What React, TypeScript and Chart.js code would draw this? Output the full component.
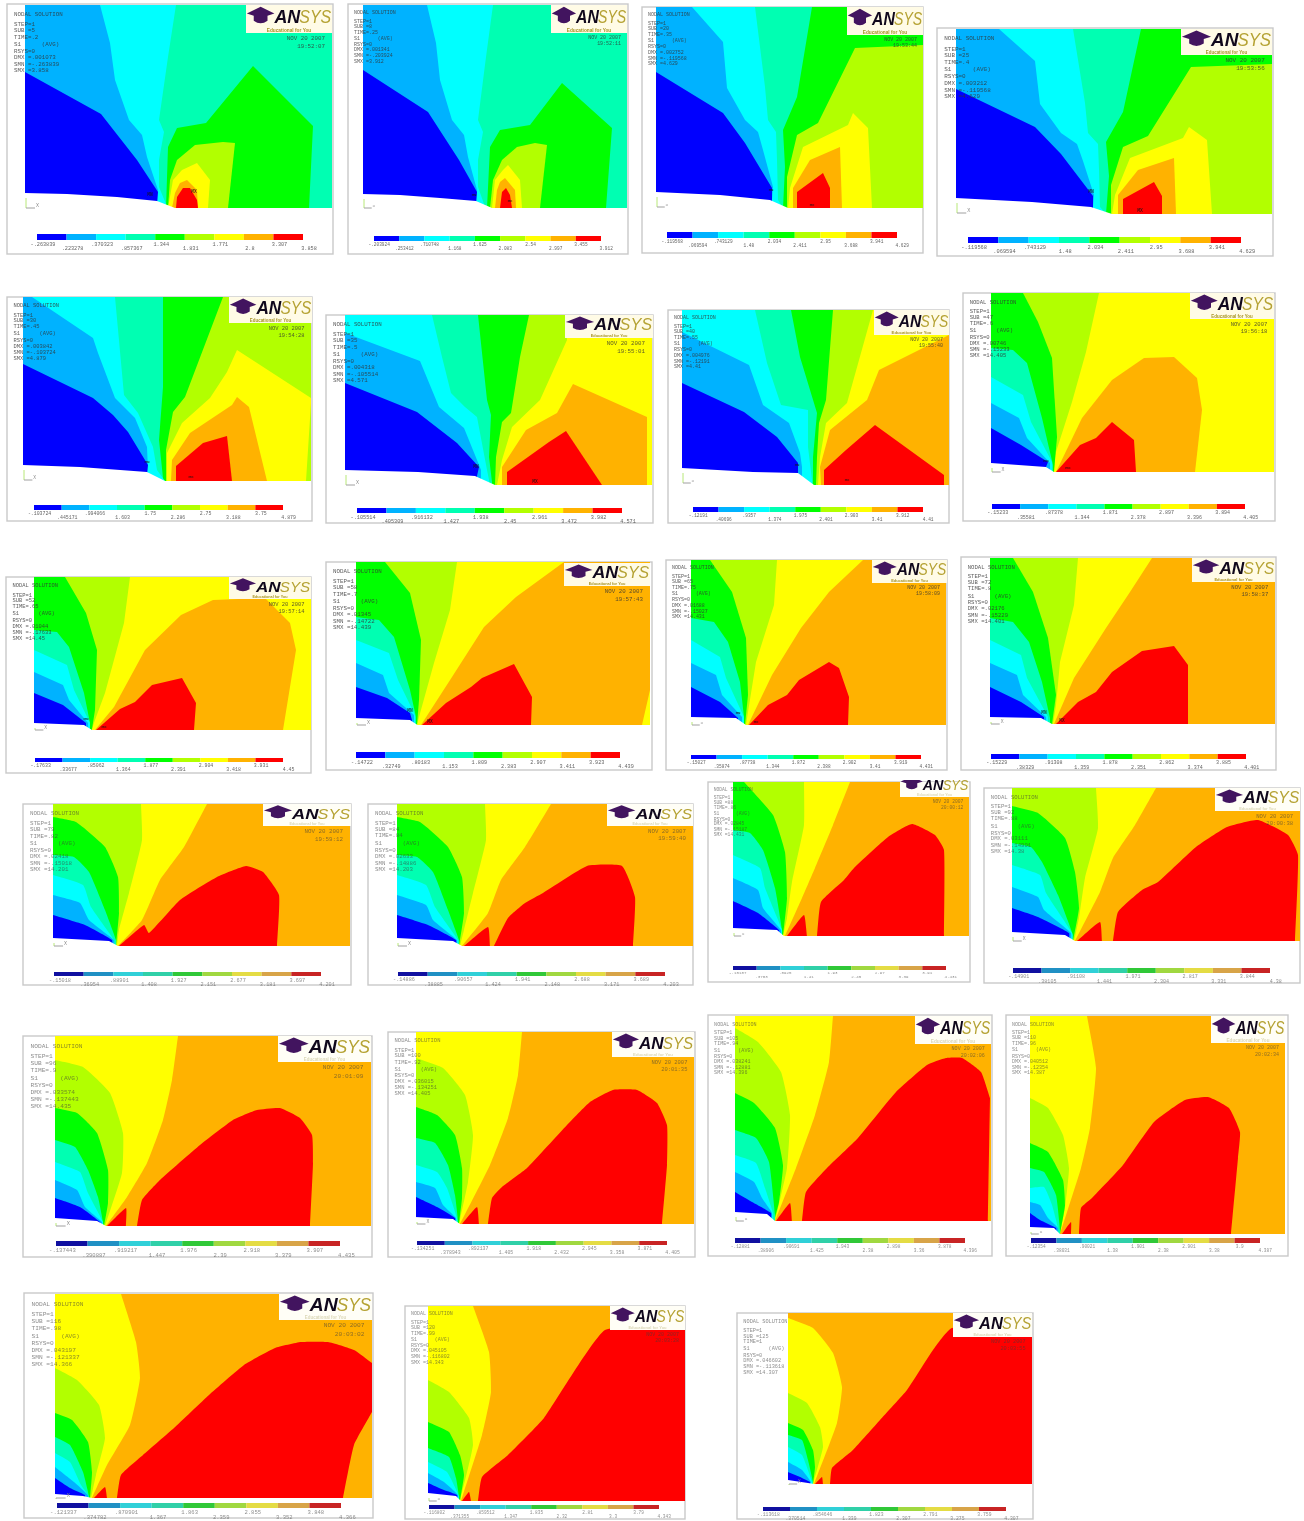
import React, { useEffect, useRef } from "react";
import { Chart, registerables } from "chart.js";

Chart.register(...registerables);

// Nine contour levels of the solution, blue (low) to red (high)
const LEVEL_COLORS = ["#0000ff", "#00b2ff", "#00ffff", "#00ffb2", "#00ff00", "#b2ff00", "#ffff00", "#ffb200", "#ff0000"];
const LATE_BAR_COLORS = ["#1010a0", "#2090c4", "#30d0d8", "#30d0a8", "#30c838", "#a0d840", "#e4dc44", "#d8a448", "#c82424"];
const B = 0, LB = 1, C = 2, T = 3, G = 4, YG = 5, Y = 6, O = 7, R = 8;

// Each band: [level, x, y, x, y ...]. LEFT bands are boundaries closed against the left side of the section, outer first.
const P01_BG = T;
const P01_LEFT = [
  [C, 176,5, 168,57, 159,120, 164,132, 159,160, 159,187, 166,204],
  [LB, 100,5, 110,43, 115,80, 129,120, 142,135, 147,157, 158,190, 158,200],
  [B, 25,72, 101,114, 137,160, 158,192, 157,201],
];
const P01_RIGHT = [
  [G, 253,66, 313,126, 309,208, 166,208, 168,147, 177,128, 206,123],
  [YG, 235,143, 228,208, 168,208, 170,180, 177,160, 195,145, 223,142],
  [Y, 197,163, 210,180, 208,208, 168,208, 173,180, 182,170],
  [O, 187,180, 197,190, 198,208, 172,208, 175,193, 180,183],
  [R, 176,208, 177,197, 183,188, 190,188, 197,200, 198,208],
];
const P01_EDGE = [25,193, 67,194, 117,197, 157,201, 175,208];
const P01_TICKS = ["-.263839", ".223278", ".370323", ".857367", "1.344", "1.831", "1.771", "2.8", "3.307", "3.858"];
const P01_INFO = ["STEP=1", "SUB =5", "TIME=.2", "S1      (AVG)", "RSYS=0", "DMX =.001073", "SMN =-.263839", "SMX =3.858"];

const P02_BG = T;
const P02_LEFT = [
  [C, 493,5, 486,57, 478,120, 483,132, 478,160, 478,187, 484,204],
  [LB, 427,5, 436,43, 440,80, 452,120, 464,135, 468,157, 477,190, 477,200],
  [B, 363,70, 428,112, 459,160, 477,192, 476,201],
];
const P02_RIGHT = [
  [G, 562,83, 612,128, 606,208, 487,208, 490,147, 500,130, 530,125],
  [YG, 547,145, 540,208, 490,208, 493,180, 502,160, 517,147, 535,143],
  [Y, 508,165, 520,180, 522,208, 492,208, 495,180, 503,170],
  [O, 505,178, 515,190, 516,208, 495,208, 497,190, 500,182],
  [R, 500,208, 502,192, 506,188, 510,195, 512,208],
];
const P02_EDGE = [363,194, 400,195, 440,198, 476,201, 492,208];
const P02_TICKS = ["-.203924", ".253412", ".710748", "1.168", "1.625", "2.083", "2.54", "2.997", "3.455", "3.912"];
const P02_INFO = ["STEP=1", "SUB =8", "TIME=.25", "S1      (AVG)", "RSYS=0", "DMX =.001341", "SMN =-.203924", "SMX =3.912"];

const P03_BG = YG;
const P03_LEFT = [
  [G, 847,7, 923,7, 923,45, 855,48, 818,123, 797,135, 787,177, 787,208],
  [T, 812,7, 797,97, 783,130, 785,167, 783,208],
  [C, 755,7, 765,87, 768,120, 776,132, 777,160, 778,200, 783,208],
  [LB, 692,7, 723,42, 727,88, 745,120, 758,132, 763,150, 773,187, 772,200],
  [B, 656,72, 723,113, 745,143, 772,188, 772,200],
];
const P03_RIGHT = [
  [Y, 853,113, 868,128, 872,208, 788,208, 790,188, 803,147, 848,125],
  [O, 840,147, 842,208, 793,208, 793,188, 810,160],
  [R, 823,173, 830,188, 830,208, 797,208, 797,192],
];
const P03_EDGE = [656,192, 720,195, 770,200, 788,208];
const P03_TICKS = ["-.119568", ".069594", ".743129", "1.48", "2.034", "2.411", "2.95", "3.688", "3.941", "4.629"];
const P03_INFO = ["STEP=1", "SUB =20", "TIME=.35", "S1      (AVG)", "RSYS=0", "DMX =.002752", "SMN =-.119568", "SMX =4.629"];

const P04_BG = YG;
const P04_LEFT = [
  [G, 1182,29, 1272,29, 1272,64, 1191,67, 1148,136, 1123,147, 1111,185, 1111,214],
  [T, 1141,29, 1123,112, 1106,142, 1109,176, 1106,214],
  [C, 1073,29, 1085,103, 1088,133, 1098,144, 1099,170, 1100,207, 1106,214],
  [LB, 999,29, 1035,61, 1040,104, 1061,133, 1077,144, 1083,161, 1094,195, 1093,207],
  [B, 956,89, 1035,127, 1061,154, 1093,196, 1093,207],
];
const P04_RIGHT = [
  [Y, 1189,127, 1207,140, 1212,214, 1112,214, 1115,195, 1130,158, 1183,138],
  [O, 1174,158, 1176,214, 1118,214, 1118,195, 1138,170],
  [R, 1154,182, 1162,196, 1162,214, 1123,214, 1123,199],
];
const P04_EDGE = [956,198, 1032,202, 1091,207, 1112,214];
const P04_TICKS = ["-.119568", ".069594", ".743129", "1.48", "2.034", "2.411", "2.95", "3.688", "3.941", "4.629"];
const P04_INFO = ["STEP=1", "SUB =25", "TIME=.4", "S1      (AVG)", "RSYS=0", "DMX =.003212", "SMN =-.119568", "SMX =4.629"];

const P05_BG = YG;
const P05_LEFT = [
  [G, 223,297, 185,397, 173,412, 166,450, 166,481],
  [T, 163,297, 163,387, 159,440, 163,478],
  [C, 115,297, 124,395, 138,413, 153,447, 157,470, 165,481],
  [LB, 32,297, 93,338, 98,353, 115,398, 135,418, 147,447, 148,470],
  [B, 23,364, 93,398, 113,415, 128,432, 148,465, 147,472],
];
const P05_RIGHT = [
  [Y, 237,350, 311,398, 311,403, 306,481, 167,481, 167,453, 182,423, 210,398, 227,372],
  [O, 237,397, 249,407, 267,481, 171,481, 172,460, 190,433, 232,405],
  [R, 227,436, 232,481, 176,481, 176,466, 203,443],
];
const P05_EDGE = [23,465, 80,467, 147,472, 165,481];
const P05_TICKS = ["-.103724", ".445171", ".994066", "1.603", "1.75", "2.286", "2.75", "3.188", "3.75", "4.879"];
const P05_INFO = ["STEP=1", "SUB =30", "TIME=.45", "S1      (AVG)", "RSYS=0", "DMX =.003842", "SMN =-.103724", "SMX =4.879"];

const P06_BG = Y;
const P06_LEFT = [
  [YG, 565,315, 567,340, 540,400, 512,427, 502,460, 497,485],
  [G, 529,315, 520,357, 511,413, 502,422, 496,457, 495,485],
  [T, 478,315, 487,400, 491,415, 489,457, 492,482],
  [C, 432,315, 442,357, 451,393, 465,407, 477,417, 487,470, 489,480],
  [LB, 345,333, 420,361, 439,407, 464,428, 477,460, 481,470],
  [B, 345,383, 417,412, 457,443, 479,467, 477,476],
];
const P06_RIGHT = [
  [O, 573,384, 647,417, 647,485, 502,485, 502,467, 526,430, 557,413],
  [R, 566,431, 602,485, 507,485, 507,472, 549,442],
];
const P06_EDGE = [345,470, 418,472, 475,476, 495,485];
const P06_TICKS = ["-.105514", ".405309", ".916132", "1.427", "1.938", "2.45", "2.961", "3.472", "3.982", "4.571"];
const P06_INFO = ["STEP=1", "SUB =35", "TIME=.5", "S1      (AVG)", "RSYS=0", "DMX =.004318", "SMN =-.105514", "SMX =4.571"];

const P07_BG = Y;
const P07_LEFT = [
  [YG, 873,310, 847,403, 826,423, 820,457, 818,485],
  [G, 833,310, 826,400, 819,423, 817,457, 816,485],
  [T, 791,310, 800,357, 817,413, 813,457, 813,485],
  [C, 755,310, 767,363, 781,405, 808,410, 808,447, 812,480],
  [LB, 682,332, 749,365, 763,405, 789,423, 800,453, 802,467],
  [B, 682,383, 744,412, 777,437, 798,463, 798,473],
];
const P07_RIGHT = [
  [O, 949,335, 949,485, 821,485, 820,467, 830,430, 867,400, 879,370],
  [R, 875,425, 944,475, 944,485, 823,485, 824,470, 846,450],
];
const P07_EDGE = [682,468, 753,472, 798,473, 814,485];
const P07_TICKS = ["-.12191", ".40696", ".9357", "1.374", "1.975", "2.401", "2.903", "3.41", "3.912", "4.41"];
const P07_INFO = ["STEP=1", "SUB =40", "TIME=.55", "S1      (AVG)", "RSYS=0", "DMX =.004976", "SMN =-.12191", "SMX =4.41"];

const P08_BG = Y;
const P08_LEFT = [
  [YG, 1099,293, 1086,352, 1072,402, 1056,452, 1052,472],
  [G, 1023,293, 1038,322, 1052,358, 1057,437, 1054,472],
  [T, 991,348, 1013,350, 1027,363, 1042,418, 1053,465],
  [C, 991,377, 1023,395, 1031,422, 1052,462],
  [LB, 991,403, 1019,418, 1027,438, 1050,463],
  [B, 991,428, 1021,445, 1048,462, 1046,467],
];
const P08_RIGHT = [
  [O, 1144,358, 1174,357, 1197,378, 1202,410, 1195,472, 1056,472, 1082,418, 1112,380],
  [R, 1112,422, 1134,440, 1136,472, 1056,472, 1080,445, 1096,438],
];
const P08_EDGE = [991,463, 1046,467, 1054,472];
const P08_TICKS = ["-.15233", ".35581", ".87378", "1.344", "1.871", "2.378", "2.897", "3.396", "3.894", "4.405"];
const P08_INFO = ["STEP=1", "SUB =47", "TIME=.6", "S1      (AVG)", "RSYS=0", "DMX =.00746", "SMN =-.15233", "SMX =14.405"];

const P09_BG = Y;
const P09_LEFT = [
  [YG, 130,577, 124,623, 105,693, 95,720, 92,729],
  [G, 65,577, 86,613, 97,650, 95,710, 92,729],
  [T, 34,630, 57,632, 69,647, 84,693, 90,723],
  [C, 34,650, 67,665, 74,690, 90,723],
  [LB, 34,672, 63,685, 69,700, 88,723],
  [B, 34,693, 63,705, 86,723],
];
const P09_RIGHT = [
  [O, 213,600, 265,598, 290,623, 296,650, 283,730, 95,730, 114,707, 145,650, 181,615],
  [R, 182,678, 196,703, 194,730, 96,730, 120,709, 135,702, 152,685],
];
const P09_EDGE = [34,723, 84,725, 92,730];
const P09_TICKS = ["-.17633", ".33677", ".85062", "1.364", "1.877", "2.391", "2.904", "3.418", "3.931", "4.45"];
const P09_INFO = ["STEP=1", "SUB =52", "TIME=.65", "S1      (AVG)", "RSYS=0", "DMX =.01044", "SMN =-.17633", "SMX =14.45"];

const P10_BG = Y;
const P10_LEFT = [
  [YG, 457,562, 450,610, 434,663, 419,717, 417,725],
  [G, 385,562, 410,593, 421,640, 419,700, 417,725],
  [T, 356,617, 379,620, 394,637, 410,690, 416,717],
  [C, 356,640, 389,653, 398,680, 415,715],
  [LB, 356,663, 383,675, 389,693, 414,715],
  [B, 356,687, 387,698, 410,713, 412,720],
];
const P10_RIGHT = [
  [O, 564,562, 650,562, 650,690, 642,725, 421,725, 452,677, 484,627, 516,597],
  [R, 514,664, 532,697, 531,725, 422,725, 446,703, 471,687, 482,678],
];
const P10_EDGE = [356,718, 410,720, 419,726];
const P10_TICKS = ["-.14722", ".32749", ".80183", "1.153", "1.809", "2.383", "2.907", "3.411", "3.923", "4.439"];
const P10_INFO = ["STEP=1", "SUB =58", "TIME=.7", "S1      (AVG)", "RSYS=0", "DMX =.01345", "SMN =-.14722", "SMX =14.439"];

const P11_BG = O;
const P11_LEFT = [
  [Y, 863,560, 829,592, 801,628, 772,675, 748,725],
  [YG, 777,560, 774,605, 756,662, 748,712, 746,725],
  [G, 710,560, 732,592, 746,638, 748,695, 745,725],
  [T, 691,618, 714,622, 728,642, 740,682, 744,717],
  [C, 691,640, 720,657, 726,678, 744,717],
  [LB, 691,663, 716,675, 722,695, 742,717],
  [B, 691,687, 720,702, 738,718],
];
const P11_RIGHT = [
  [R, 829,662, 839,668, 849,697, 848,725, 749,725, 768,705, 787,695, 799,680],
];
const P11_EDGE = [691,717, 736,718, 746,725];
const P11_TICKS = ["-.15027", ".35874", ".87738", "1.344", "1.872", "2.388", "2.902", "3.41", "3.919", "4.431"];
const P11_INFO = ["STEP=1", "SUB =65", "TIME=.75", "S1      (AVG)", "RSYS=0", "DMX =.01688", "SMN =-.15027", "SMX =14.431"];

const P12_BG = O;
const P12_LEFT = [
  [Y, 1152,558, 1130,592, 1106,628, 1074,678, 1054,724],
  [YG, 1078,558, 1074,605, 1060,662, 1056,705, 1053,724],
  [G, 1013,558, 1033,592, 1048,638, 1056,695, 1052,724],
  [T, 990,618, 1013,622, 1029,642, 1042,682, 1050,718],
  [C, 990,640, 1021,655, 1027,678, 1048,717],
  [LB, 990,663, 1017,675, 1023,695, 1046,717],
  [B, 990,687, 1021,702, 1044,717],
];
const P12_RIGHT = [
  [R, 1142,651, 1174,646, 1188,665, 1188,724, 1056,724, 1078,702, 1096,692, 1112,672],
];
const P12_EDGE = [990,717, 1041,718, 1052,724];
const P12_TICKS = ["-.15229", ".38329", ".91308", "1.359", "1.878", "2.351", "2.862", "3.374", "3.885", "4.401"];
const P12_INFO = ["STEP=1", "SUB =72", "TIME=.8", "S1      (AVG)", "RSYS=0", "DMX =.02176", "SMN =-.15229", "SMX =14.401"];

const P13_BG = O;
const P13_LEFT = [
  [Y, 207,804, 184,847, 160,880, 142,920, 118,946],
  [YG, 141,804, 142,840, 129,893, 119,930, 117,946],
  [G, 53,817, 76,822, 105,847, 118,877, 119,913, 116,946],
  [T, 53,855, 74,857, 89,872, 105,910, 116,940],
  [C, 53,875, 83,885, 91,907, 114,940],
  [LB, 53,895, 80,903, 89,920, 114,940],
  [B, 53,915, 85,925, 112,940],
];
const P13_RIGHT = [
  [R, 119,946, 144,925, 149,933, 180,900, 217,877, 246,866, 263,872, 279,895, 277,946],
];
const P13_EDGE = [53,938, 109,941, 118,946];
const P13_TICKS = ["-.15018", ".36954", ".88901", "1.408", "1.927", "2.151", "2.677", "3.181", "3.697", "4.201"];
const P13_INFO = ["STEP=1", "SUB =79", "TIME=.82", "S1      (AVG)", "RSYS=0", "DMX =.02418", "SMN =-.15018", "SMX =14.201"];

const P14_BG = O;
const P14_LEFT = [
  [Y, 551,804, 525,847, 501,880, 488,913, 462,946],
  [YG, 485,804, 486,840, 473,893, 464,930, 460,946],
  [G, 397,817, 420,822, 448,847, 462,877, 464,913, 459,946],
  [T, 397,855, 417,857, 433,872, 448,910, 459,940],
  [C, 397,875, 426,885, 435,907, 458,940],
  [LB, 397,895, 426,905, 433,920, 457,940],
  [B, 397,915, 428,925, 456,940],
];
const P14_RIGHT = [
  [R, 464,946, 488,927, 490,946],
  [R, 494,946, 508,918, 525,903, 543,893, 587,866, 622,866, 635,897, 633,946],
];
const P14_EDGE = [397,938, 453,941, 462,946];
const P14_TICKS = ["-.14886", ".38885", ".90657", "1.424", "1.941", "2.148", "2.688", "3.171", "3.689", "4.203"];
const P14_INFO = ["STEP=1", "SUB =84", "TIME=.84", "S1      (AVG)", "RSYS=0", "DMX =.02633", "SMN =-.14886", "SMX =14.203"];

const P15_BG = O;
const P15_LEFT = [
  [Y, 850,782, 833,825, 815,868, 802,898, 785,936],
  [YG, 804,782, 804,825, 792,882, 787,918, 783,936],
  [G, 744,782, 773,815, 785,852, 787,898, 783,936],
  [T, 733,830, 750,833, 763,850, 775,888, 782,930],
  [C, 733,855, 760,868, 765,888, 782,930],
  [LB, 733,878, 758,890, 763,908, 781,930],
  [B, 733,901, 758,913, 779,930],
];
const P15_RIGHT = [
  [R, 787,936, 804,915, 807,936],
  [R, 817,936, 821,902, 844,880, 854,868, 888,837, 912,824, 935,835, 944,850, 944,936],
];
const P15_EDGE = [733,928, 777,930, 784,936];
const P15_TICKS = ["-.15187", ".3703", ".8925", "1.41", "1.93", "2.45", "2.97", "3.39", "3.91", "4.431"];
const P15_INFO = ["STEP=1", "SUB =88", "TIME=.86", "S1      (AVG)", "RSYS=0", "DMX =.02845", "SMN =-.15187", "SMX =14.431"];

const P16_BG = O;
const P16_LEFT = [
  [Y, 1156,788, 1135,825, 1113,858, 1100,892, 1075,941],
  [YG, 1096,788, 1098,828, 1085,878, 1079,918, 1074,941],
  [G, 1012,806, 1038,813, 1065,838, 1075,872, 1079,908, 1073,941],
  [T, 1012,843, 1031,847, 1042,862, 1058,895, 1073,935],
  [C, 1012,865, 1040,875, 1046,893, 1072,933],
  [LB, 1012,887, 1038,897, 1044,910, 1071,933],
  [B, 1012,908, 1038,917, 1069,933],
];
const P16_RIGHT = [
  [R, 1077,941, 1100,922, 1102,941],
  [R, 1113,941, 1118,912, 1142,890, 1158,882, 1196,847, 1227,827, 1258,820, 1288,835, 1298,855, 1295,941],
];
const P16_EDGE = [1012,932, 1065,935, 1075,941];
const P16_TICKS = ["-.14901", ".38105", ".91108", "1.441", "1.971", "2.304", "2.817", "3.331", "3.844", "4.38"];
const P16_INFO = ["STEP=1", "SUB =92", "TIME=.88", "S1      (AVG)", "RSYS=0", "DMX =.03111", "SMN =-.14901", "SMX =14.38"];

const P17_BG = O;
const P17_LEFT = [
  [Y, 178,1036, 172,1080, 163,1120, 147,1163, 127,1197, 106,1226],
  [YG, 55,1060, 83,1067, 110,1093, 123,1133, 122,1173, 105,1226],
  [G, 55,1108, 77,1113, 97,1133, 108,1170, 108,1203, 104,1226],
  [T, 55,1140, 75,1147, 88,1170, 98,1197, 103,1222],
  [C, 55,1162, 80,1172, 88,1193, 103,1222],
  [LB, 55,1180, 77,1190, 85,1207, 102,1222],
  [B, 55,1198, 80,1207, 100,1222],
];
const P17_RIGHT = [
  [R, 107,1226, 126,1208, 126,1226],
  [R, 137,1226, 142,1200, 160,1180, 200,1145, 233,1120, 257,1110, 280,1108, 300,1118, 312,1135, 313,1163, 310,1226],
];
const P17_EDGE = [55,1218, 97,1221, 106,1226];
const P17_TICKS = ["-.137443", ".390887", ".919217", "1.447", "1.976", "2.39", "2.918", "3.379", "3.907", "4.435"];
const P17_INFO = ["STEP=1", "SUB =96", "TIME=.9", "S1      (AVG)", "RSYS=0", "DMX =.033574", "SMN =-.137443", "SMX =14.435"];

const P18_BG = O;
const P18_LEFT = [
  [Y, 522,1032, 518,1075, 508,1118, 490,1165, 460,1224],
  [YG, 416,1058, 443,1068, 465,1095, 473,1135, 468,1182, 459,1224],
  [G, 416,1107, 437,1115, 455,1135, 462,1168, 462,1198, 459,1224],
  [T, 416,1138, 435,1143, 448,1165, 455,1195, 458,1220],
  [C, 416,1165, 437,1172, 447,1188, 457,1218],
  [LB, 416,1182, 435,1188, 443,1205, 456,1218],
  [B, 416,1197, 437,1207, 455,1218],
];
const P18_RIGHT = [
  [R, 462,1224, 477,1207, 479,1224],
  [R, 488,1224, 492,1198, 502,1187, 527,1168, 567,1125, 590,1102, 613,1090, 637,1090, 657,1103, 667,1125, 667,1165, 662,1224],
];
const P18_EDGE = [416,1217, 453,1219, 460,1224];
const P18_TICKS = ["-.134251", ".378943", ".892137", "1.405", "1.918", "2.432", "2.945", "3.358", "3.871", "4.405"];
const P18_INFO = ["STEP=1", "SUB =100", "TIME=.92", "S1      (AVG)", "RSYS=0", "DMX =.036015", "SMN =-.134251", "SMX =14.405"];

const P19_BG = O;
const P19_LEFT = [
  [Y, 833,1016, 829,1062, 815,1115, 796,1168, 775,1221],
  [YG, 735,1028, 758,1042, 781,1072, 790,1115, 787,1168, 775,1221],
  [G, 735,1093, 754,1103, 775,1128, 783,1165, 779,1202, 774,1221],
  [T, 735,1130, 756,1138, 769,1162, 775,1215],
  [C, 735,1155, 756,1163, 765,1188, 773,1213],
  [LB, 735,1172, 754,1182, 762,1198, 772,1213],
  [B, 735,1192, 752,1202, 771,1213],
];
const P19_RIGHT = [
  [R, 776,1221, 790,1203, 792,1221],
  [R, 802,1221, 806,1192, 827,1168, 858,1138, 896,1092, 927,1065, 946,1058, 962,1058, 981,1072, 990,1098, 988,1221],
];
const P19_EDGE = [735,1212, 767,1214, 775,1221];
const P19_TICKS = ["-.12881", ".38906", ".90691", "1.425", "1.943", "2.38", "2.898", "3.36", "3.878", "4.396"];
const P19_INFO = ["STEP=1", "SUB =105", "TIME=.94", "S1      (AVG)", "RSYS=0", "DMX =.038241", "SMN =-.12881", "SMX =14.396"];

const P20_BG = O;
const P20_LEFT = [
  [Y, 1087,1016, 1096,1068, 1090,1128, 1081,1168, 1060,1234],
  [YG, 1030,1098, 1048,1108, 1063,1135, 1069,1168, 1065,1208, 1060,1234],
  [G, 1030,1143, 1048,1152, 1063,1180, 1065,1205, 1060,1234],
  [T, 1030,1168, 1044,1172, 1056,1195, 1060,1230],
  [C, 1030,1188, 1044,1187, 1052,1205, 1058,1228],
  [LB, 1030,1202, 1040,1205, 1048,1218, 1058,1228],
  [B, 1030,1213, 1040,1220, 1056,1228],
];
const P20_RIGHT = [
  [R, 1062,1234, 1071,1222, 1071,1234],
  [R, 1079,1234, 1081,1208, 1092,1198, 1123,1165, 1154,1122, 1185,1100, 1208,1097, 1229,1108, 1240,1132, 1238,1158, 1231,1234],
];
const P20_EDGE = [1030,1227, 1054,1228, 1060,1234];
const P20_TICKS = ["-.12354", ".38031", ".90021", "1.38", "1.901", "2.38", "2.901", "3.38", "3.9", "4.387"];
const P20_INFO = ["STEP=1", "SUB =110", "TIME=.96", "S1      (AVG)", "RSYS=0", "DMX =.040512", "SMN =-.12354", "SMX =14.387"];

const P21_BG = O;
const P21_LEFT = [
  [Y, 121,1294, 136,1342, 140,1378, 130,1425, 107,1465, 92,1498],
  [YG, 55,1368, 77,1380, 99,1405, 105,1438, 96,1475, 91,1498],
  [G, 55,1413, 72,1420, 88,1442, 92,1472, 90,1498],
  [T, 55,1437, 70,1445, 83,1472, 89,1496],
  [C, 55,1453, 70,1462, 81,1485, 88,1495],
  [LB, 55,1467, 74,1482, 88,1495],
  [B, 55,1478, 70,1488, 85,1495],
];
const P21_RIGHT = [
  [R, 94,1498, 105,1487, 107,1498],
  [R, 117,1498, 121,1475, 143,1455, 174,1428, 209,1395, 244,1365, 275,1348, 301,1342, 328,1342, 354,1350, 372,1363, 372,1412, 354,1445, 343,1498],
];
const P21_EDGE = [55,1494, 83,1496, 92,1498];
const P21_TICKS = ["-.121337", ".374782", ".870901", "1.367", "1.863", "2.359", "2.855", "3.352", "3.848", "4.366"];
const P21_INFO = ["STEP=1", "SUB =116", "TIME=.98", "S1      (AVG)", "RSYS=0", "DMX =.043197", "SMN =-.121337", "SMX =14.366"];

const P22_BG = O;
const P22_LEFT = [
  [Y, 473,1306, 489,1352, 491,1392, 482,1435, 461,1501],
  [YG, 428,1380, 449,1392, 469,1418, 473,1445, 460,1501],
  [G, 428,1422, 449,1432, 460,1455, 464,1475, 460,1501],
  [T, 428,1448, 449,1457, 456,1478, 459,1497],
  [C, 428,1462, 447,1472, 459,1496],
  [LB, 428,1473, 444,1482, 458,1495],
  [B, 428,1483, 444,1490, 457,1495],
];
const P22_RIGHT = [
  [R, 462,1501, 469,1492, 471,1501],
  [R, 478,1501, 482,1477, 508,1455, 544,1418, 605,1330, 685,1330, 685,1501],
];
const P22_EDGE = [428,1493, 456,1496, 461,1501];
const P22_TICKS = ["-.116802", ".371355", ".859512", "1.347", "1.835", "2.32", "2.81", "3.3", "3.79", "4.343"];
const P22_INFO = ["STEP=1", "SUB =120", "TIME=.99", "S1      (AVG)", "RSYS=0", "DMX =.045105", "SMN =-.116802", "SMX =14.343"];

const P23_BG = O;
const P23_LEFT = [
  [Y, 788,1318, 813,1328, 833,1353, 842,1387, 837,1423, 814,1484],
  [YG, 788,1393, 807,1403, 820,1427, 823,1447, 813,1484],
  [G, 788,1423, 803,1430, 813,1450, 815,1467, 813,1484],
  [T, 788,1435, 802,1440, 808,1460, 813,1482],
  [C, 788,1447, 802,1455, 812,1482],
  [LB, 788,1462, 802,1470, 811,1482],
  [B, 788,1472, 800,1477, 810,1482],
];
const P23_RIGHT = [
  [R, 815,1484, 822,1477, 823,1484],
  [R, 830,1484, 832,1468, 853,1450, 880,1420, 907,1390, 933,1350, 952,1328, 1032,1337, 1032,1484],
];
const P23_EDGE = [788,1480, 808,1483, 814,1484];
const P23_TICKS = ["-.113618", ".370514", ".854646", "1.339", "1.823", "2.307", "2.791", "3.275", "3.759", "4.307"];
const P23_INFO = ["STEP=1", "SUB =125", "TIME=1", "S1      (AVG)", "RSYS=0", "DMX =.046602", "SMN =-.113618", "SMX =14.307"];

const CLOCK = ["19:52:07","19:52:11","19:53:44","19:53:56","19:54:28","19:55:01","19:55:40","19:56:18","19:57:14","19:57:43","19:58:09","19:58:37","19:59:12","19:59:40","20:00:12","20:00:38","20:01:09","20:01:35","20:02:06","20:02:34","20:03:02","20:03:28","20:03:55"];
const DATE_LABEL = "NOV 20 2007";
const TITLE_LABEL = "NODAL SOLUTION";
const LOGO_SUBTITLE = "Educational for You";

// Minimum and maximum markers of the first twelve solutions: [MN x, MN y, MX x, MX y]
const EXTREMA = [
  [150,196,194,193],[474,196,510,202],[771,191,812,206],[1091,193,1140,212],
  [147,463,191,478],[476,468,535,483],[797,466,847,481],[1046,462,1068,469],
  [86,720,104,728],[410,712,430,723],[738,714,756,723],[1044,714,1062,722],
];

// Layout: frame, plot, colour bar [x0,x1,y0,y1], logo box
const LAYOUT = [
  { f:[7,4,333,254], p:[25,5,332,208], b:[37,303,234,240], l:[246,5,332,33] },
  { f:[348,4,628,254], p:[363,5,627,208], b:[374,601,236,241], l:[551,5,627,33] },
  { f:[642,7,923,253], p:[656,7,923,208], b:[667,897,232,238], l:[847,7,923,35] },
  { f:[937,28,1273,256], p:[956,29,1272,214], b:[968,1241,237,243], l:[1181,29,1272,55] },
  { f:[7,297,312,521], p:[23,297,311,481], b:[34,283,505,510], l:[229,297,312,323] },
  { f:[326,315,653,523], p:[345,315,652,485], b:[357,622,508,513], l:[565,315,653,338] },
  { f:[668,310,949,523], p:[682,310,949,485], b:[693,923,507,512], l:[874,310,949,335] },
  { f:[963,293,1275,521], p:[991,293,1274,472], b:[992,1245,504,509], l:[1190,293,1274,319] },
  { f:[6,577,311,773], p:[34,577,311,730], b:[35,283,758,762], l:[229,577,311,599] },
  { f:[326,562,652,770], p:[356,562,650,725], b:[356,620,752,758], l:[564,563,650,586] },
  { f:[666,560,947,770], p:[691,560,946,725], b:[691,921,755,759], l:[872,560,947,583] },
  { f:[961,557,1276,770], p:[990,558,1275,724], b:[991,1246,754,759], l:[1192,558,1275,582] },
  { f:[23,804,351,985], p:[53,804,350,946], b:[54,321,972,976], l:[263,804,351,826] },
  { f:[368,804,693,985], p:[397,804,693,946], b:[398,665,972,976], l:[607,804,693,826] },
  { f:[708,782,970,982], p:[733,782,969,936], b:[733,946,966,970], l:[900,782,969,797] },
  { f:[984,788,1300,983], p:[1012,788,1300,941], b:[1013,1270,968,973], l:[1215,788,1300,811] },
  { f:[23,1036,372,1257], p:[55,1036,371,1226], b:[56,340,1241,1246], l:[278,1036,371,1062] },
  { f:[388,1032,695,1257], p:[416,1032,694,1224], b:[417,667,1241,1245], l:[612,1032,694,1057] },
  { f:[708,1015,992,1256], p:[735,1016,991,1221], b:[735,965,1238,1243], l:[915,1016,991,1044] },
  { f:[1006,1015,1288,1256], p:[1030,1016,1285,1234], b:[1031,1260,1238,1243], l:[1211,1016,1285,1043] },
  { f:[24,1293,373,1518], p:[55,1294,372,1498], b:[57,341,1503,1508], l:[279,1294,372,1320] },
  { f:[405,1306,685,1519], p:[428,1306,685,1501], b:[429,659,1505,1509], l:[610,1306,685,1330] },
  { f:[737,1313,1033,1519], p:[788,1313,1032,1484], b:[763,1006,1507,1511], l:[953,1313,1032,1337] },
];

const BANDS_BG = [P01_BG,P02_BG,P03_BG,P04_BG,P05_BG,P06_BG,P07_BG,P08_BG,P09_BG,P10_BG,P11_BG,P12_BG,P13_BG,P14_BG,P15_BG,P16_BG,P17_BG,P18_BG,P19_BG,P20_BG,P21_BG,P22_BG,P23_BG];
const BANDS_LEFT = [P01_LEFT,P02_LEFT,P03_LEFT,P04_LEFT,P05_LEFT,P06_LEFT,P07_LEFT,P08_LEFT,P09_LEFT,P10_LEFT,P11_LEFT,P12_LEFT,P13_LEFT,P14_LEFT,P15_LEFT,P16_LEFT,P17_LEFT,P18_LEFT,P19_LEFT,P20_LEFT,P21_LEFT,P22_LEFT,P23_LEFT];
const BANDS_RIGHT = [P01_RIGHT,P02_RIGHT,P03_RIGHT,P04_RIGHT,P05_RIGHT,P06_RIGHT,P07_RIGHT,P08_RIGHT,P09_RIGHT,P10_RIGHT,P11_RIGHT,P12_RIGHT,P13_RIGHT,P14_RIGHT,P15_RIGHT,P16_RIGHT,P17_RIGHT,P18_RIGHT,P19_RIGHT,P20_RIGHT,P21_RIGHT,P22_RIGHT,P23_RIGHT];
const EDGES = [P01_EDGE,P02_EDGE,P03_EDGE,P04_EDGE,P05_EDGE,P06_EDGE,P07_EDGE,P08_EDGE,P09_EDGE,P10_EDGE,P11_EDGE,P12_EDGE,P13_EDGE,P14_EDGE,P15_EDGE,P16_EDGE,P17_EDGE,P18_EDGE,P19_EDGE,P20_EDGE,P21_EDGE,P22_EDGE,P23_EDGE];
const TICKS = [P01_TICKS,P02_TICKS,P03_TICKS,P04_TICKS,P05_TICKS,P06_TICKS,P07_TICKS,P08_TICKS,P09_TICKS,P10_TICKS,P11_TICKS,P12_TICKS,P13_TICKS,P14_TICKS,P15_TICKS,P16_TICKS,P17_TICKS,P18_TICKS,P19_TICKS,P20_TICKS,P21_TICKS,P22_TICKS,P23_TICKS];
const INFO = [P01_INFO,P02_INFO,P03_INFO,P04_INFO,P05_INFO,P06_INFO,P07_INFO,P08_INFO,P09_INFO,P10_INFO,P11_INFO,P12_INFO,P13_INFO,P14_INFO,P15_INFO,P16_INFO,P17_INFO,P18_INFO,P19_INFO,P20_INFO,P21_INFO,P22_INFO,P23_INFO];

const MARGIN = 2;
const SMOOTH_FROM = 12;

function toPoints(flat: number[]) {
  const out: { x: number; y: number }[] = [];
  for (let i = 0; i < flat.length; i += 2) out.push({ x: flat[i], y: flat[i + 1] });
  return out;
}

function poly(points: { x: number; y: number }[], color: string, tension = 0, plot?: number[]) {
  let data = [...points, points[0]];
  if (tension && plot) {
    // A doubled point keeps a sharp corner where a contour meets the section's edge
    const onEdge = (q: { x: number; y: number }) => q.x <= plot[0] || q.x >= plot[2] - 1 || q.y <= plot[1] || q.y >= plot[3] - 1;
    data = data.flatMap((q) => (onEdge(q) ? [q, { ...q }] : [q]));
  }
  return {
    data,
    showLine: true,
    fill: "shape",
    backgroundColor: color,
    borderColor: color,
    borderWidth: 0,
    pointRadius: 0,
    pointHoverRadius: 0,
    tension,
  };
}

function rect(x0: number, y0: number, x1: number, y1: number) {
  return [{ x: x0, y: y0 }, { x: x1, y: y0 }, { x: x1, y: y1 }, { x: x0, y: y1 }];
}

function buildDatasets(i: number) {
  const { p, b } = LAYOUT[i];
  const [L, TOP, RIGHT, BOT] = p;
  const tension = i >= SMOOTH_FROM ? 0.14 : 0;
  const sets: any[] = [poly(rect(L, TOP, RIGHT, BOT), LEVEL_COLORS[BANDS_BG[i]])];
  for (const band of BANDS_LEFT[i]) {
    const pts = toPoints(band.slice(1));
    const last = pts[pts.length - 1];
    pts.push({ x: last.x, y: BOT }, { x: L, y: BOT });
    if (pts[0].x > L) pts.push({ x: L, y: TOP });
    sets.push(poly(pts, LEVEL_COLORS[band[0]], tension, p));
  }
  for (const band of BANDS_RIGHT[i]) sets.push(poly(toPoints(band.slice(1)), LEVEL_COLORS[band[0]], tension, p));
  const edge = toPoints(EDGES[i]);
  sets.push(poly([{ x: L - 1, y: edge[0].y }, ...edge, { x: edge[edge.length - 1].x, y: BOT + 1 }, { x: L - 1, y: BOT + 1 }], "#ffffff"));
  const w = (b[1] - b[0]) / LEVEL_COLORS.length;
  const barColors = i >= SMOOTH_FROM ? LATE_BAR_COLORS : LEVEL_COLORS;
  barColors.forEach((c, k) => sets.push(poly(rect(b[0] + k * w, b[2], b[0] + (k + 1) * w, b[3]), c)));
  const n = sets.length;
  sets.forEach((s, k) => (s.order = n - k));
  return sets;
}

function decorPlugin(i: number) {
  const { f, p, b, l } = LAYOUT[i];
  const late = i >= SMOOTH_FROM;
  return {
    id: "panelDecor",
    beforeDatasetsDraw(chart: any) {
      const ctx = chart.ctx;
      const X = (v: number) => chart.scales.x.getPixelForValue(v);
      const Y_ = (v: number) => chart.scales.y.getPixelForValue(v);
      ctx.save();
      ctx.strokeStyle = "#c9c9c9";
      ctx.lineWidth = 1.4;
      ctx.strokeRect(X(f[0]), Y_(f[1]), f[2] - f[0], f[3] - f[1]);
      ctx.restore();
    },
    afterDatasetsDraw(chart: any) {
      const ctx = chart.ctx;
      const X = (v: number) => chart.scales.x.getPixelForValue(v);
      const Y_ = (v: number) => chart.scales.y.getPixelForValue(v);
      const k = (f[2] - f[0]) / 326;
      ctx.save();

      // Logo box
      const lx = X(l[0]), ly = Y_(l[1]), lw = l[2] - l[0], lh = l[3] - l[1];
      ctx.fillStyle = late ? "#fffef6" : "#fffbe6";
      ctx.fillRect(lx, ly, lw, lh);
      const uh = Math.max(lh, 22);
      const top = ly + (lh - uh);
      const cx = lx + lw * 0.17, cy = top + uh * 0.36;
      ctx.fillStyle = "#42145f";
      ctx.beginPath();
      ctx.moveTo(lx + lw * 0.01, cy - uh * 0.06);
      ctx.lineTo(cx, cy - uh * 0.3);
      ctx.lineTo(lx + lw * 0.33, cy - uh * 0.06);
      ctx.lineTo(lx + lw * 0.25, cy + uh * 0.02);
      ctx.lineTo(lx + lw * 0.25, cy + uh * 0.2);
      ctx.quadraticCurveTo(cx, cy + uh * 0.38, lx + lw * 0.09, cy + uh * 0.2);
      ctx.lineTo(lx + lw * 0.09, cy + uh * 0.02);
      ctx.closePath();
      ctx.fill();
      const fs = uh * 0.68;
      ctx.textBaseline = "alphabetic";
      ctx.textAlign = "left";
      const baseY = top + uh * 0.66;
      ctx.font = `italic bold ${fs}px "Liberation Sans"`;
      ctx.fillStyle = "#10081c";
      const anW = ctx.measureText("AN").width;
      ctx.save();
      ctx.translate(lx + lw * 0.33, baseY);
      ctx.scale((lw * 0.3) / anW, 1);
      ctx.fillText("AN", 0, 0);
      ctx.restore();
      ctx.font = `italic ${fs}px "Liberation Sans"`;
      ctx.fillStyle = "#b5a233";
      const sysW = ctx.measureText("SYS").width;
      ctx.save();
      ctx.translate(lx + lw * 0.62, baseY);
      ctx.scale((lw * 0.37) / sysW, 1);
      ctx.fillText("SYS", 0, 0);
      ctx.restore();
      ctx.font = `bold ${uh * 0.17}px "Liberation Sans"`;
      ctx.fillStyle = late ? "#dcd8b8" : "#a89426";
      ctx.textAlign = "center";
      ctx.fillText(LOGO_SUBTITLE, lx + lw * 0.5, ly + lh - 1.5);

      // Date and time
      ctx.font = `${5.8 * k}px "Liberation Mono"`;
      ctx.fillStyle = late ? "rgba(60,60,60,0.6)" : "rgba(50,50,50,0.8)";
      ctx.textAlign = "right";
      const dx = X(p[2]) - 7 * k;
      ctx.fillText(DATE_LABEL, dx, Y_(l[3]) + 7 * k);
      ctx.fillText(CLOCK[i], dx, Y_(l[3]) + 14.5 * k);

      // Solution block on the left
      ctx.textAlign = "left";
      const steps = [11, 21, 27, 33.5, 41, 48, 54, 61, 67];
      const tx = X(f[0]) + 7 * k;
      const ty0 = Y_(p[1]);
      [TITLE_LABEL, ...INFO[i]].forEach((s, j) => ctx.fillText(s, tx, ty0 + steps[j] * k));

      // Minimum and maximum markers
      const ext = EXTREMA[i];
      if (ext) {
        ctx.textAlign = "center";
        ctx.font = `bold ${4.6 * k}px "Liberation Mono"`;
        ctx.fillStyle = "rgba(20,20,20,0.75)";
        ctx.fillText("MN", X(ext[0]), Y_(ext[1]));
        ctx.fillText("MX", X(ext[2]), Y_(ext[3]));
        ctx.textAlign = "left";
      }

      // Axis triad
      const ex = X(p[0]) + 1, ey = Y_(EDGES[i][1]);
      const bot = Math.min(Y_(p[3]), ey + 15);
      ctx.lineWidth = 1;
      ctx.strokeStyle = "#b8e878";
      ctx.beginPath(); ctx.moveTo(ex, ey + 5); ctx.lineTo(ex, bot); ctx.stroke();
      ctx.strokeStyle = "#a0a0a0";
      ctx.beginPath(); ctx.moveTo(ex, bot); ctx.lineTo(ex + 9 * k, bot); ctx.stroke();
      ctx.font = `${5 * k}px "Liberation Mono"`;
      ctx.fillStyle = "#888";
      ctx.fillText("X", ex + 10 * k, bot - 1);

      // Colour-bar values, staggered over two rows
      ctx.fillStyle = late ? "rgba(80,80,80,0.65)" : "rgba(70,70,70,0.85)";
      ctx.textAlign = "center";
      ctx.font = `${5.2 * k}px "Liberation Mono"`;
      const step = (b[1] - b[0]) / 9;
      TICKS[i].forEach((s, j) => {
        ctx.fillText(s, X(b[0] + j * step + 6 * k), Y_(b[3]) + (j % 2 === 0 ? 5.5 : 10) * k);
      });
      ctx.restore();
    },
  };
}

function Panel({ index }: { index: number }) {
  const ref = useRef<HTMLCanvasElement | null>(null);
  const { f } = LAYOUT[index];
  const width = f[2] - f[0] + MARGIN * 2;
  const height = f[3] - f[1] + MARGIN * 2;
  useEffect(() => {
    const chart = new Chart(ref.current as HTMLCanvasElement, {
      type: "scatter",
      data: { datasets: buildDatasets(index) },
      options: {
        animation: false,
        responsive: false,
        maintainAspectRatio: false,
        events: [],
        layout: { padding: 0 },
        plugins: { legend: { display: false }, tooltip: { enabled: false } },
        scales: {
          x: { type: "linear", display: false, min: f[0] - MARGIN, max: f[2] + MARGIN },
          y: { type: "linear", display: false, reverse: true, min: f[1] - MARGIN, max: f[3] + MARGIN },
        },
      },
      plugins: [decorPlugin(index)],
    } as any);
    return () => chart.destroy();
  }, [index]);
  return (
    <canvas
      ref={ref}
      width={width}
      height={height}
      style={{
        position: "absolute",
        left: f[0] - MARGIN,
        top: f[1] - MARGIN,
        width,
        height,
        filter: "blur(0.6px)",
      }}
    />
  );
}

export default function App() {
  return (
    <div style={{ position: "absolute", left: 0, top: 0, width: 1304, height: 1521, overflow: "hidden", background: "#fff" }}>
      {LAYOUT.map((_, i) => (
        <Panel key={i} index={i} />
      ))}
    </div>
  );
}
